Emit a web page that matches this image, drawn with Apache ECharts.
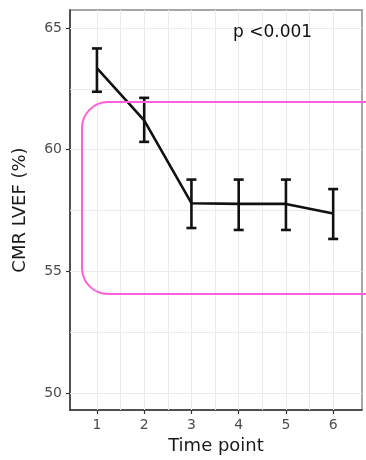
<!DOCTYPE html>
<html>
<head>
<meta charset="utf-8">
<script src="https://cdn.jsdelivr.net/npm/echarts@6/dist/echarts.min.js"></script>
<style>
  html, body { margin: 0; padding: 0; background: #fff; }
  #chart { width: 366px; height: 460px; }
</style>
</head>
<body>
<div id="chart"></div>
<script>
// time points and CMR LVEF mean with error bar limits
var timePoints = [1, 2, 3, 4, 5, 6]
var lvefMean = [63.35, 61.2, 57.8, 57.77, 57.77, 57.38]
var lvefUpper = [64.16, 62.13, 58.77, 58.77, 58.77, 58.38]
var lvefLower = [62.38, 60.32, 56.78, 56.7, 56.7, 56.33]
var yTicks = [50, 55, 60, 65]
var yMinor = [52.5, 57.5, 62.5]
var xMinor = [1.5, 2.5, 3.5, 4.5, 5.5]

var lineData = timePoints.map(function (t, i) { return [t, lvefMean[i]] })
var barData = timePoints.map(function (t, i) { return [t, lvefLower[i], lvefUpper[i]] })

var fontFam = '"DejaVu Sans", sans-serif'

function renderErrorBar (params, api) {
  var x = api.value(0)
  var lo = api.coord([x, api.value(1)])
  var hi = api.coord([x, api.value(2)])
  var half = 5
  var st = { stroke: '#111', lineWidth: 2.6 }
  return {
    type: 'group',
    children: [
      { type: 'line', shape: { x1: hi[0], y1: hi[1], x2: lo[0], y2: lo[1] }, style: st },
      { type: 'line', shape: { x1: hi[0] - half, y1: hi[1], x2: hi[0] + half, y2: hi[1] }, style: st },
      { type: 'line', shape: { x1: lo[0] - half, y1: lo[1], x2: lo[0] + half, y2: lo[1] }, style: st }
    ]
  }
}

var myChart = echarts.init(document.getElementById('chart'))
var option = {
  animation: false,
  grid: {
    left: 70,
    right: 4,
    top: 10,
    bottom: 50,
    show: true,
    borderColor: '#8a8a8a',
    borderWidth: 1.5,
    backgroundColor: '#fff'
  },
  xAxis: {
    type: 'value',
    min: 0.43,
    max: 6.61,
    name: 'Time point',
    nameLocation: 'middle',
    nameGap: 25,
    nameTextStyle: { color: '#1a1a1a', fontSize: 18, fontFamily: fontFam },
    axisLine: { show: true, onZero: false, lineStyle: { color: '#333', width: 1.5 } },
    axisTick: { show: true, length: 4, customValues: timePoints, lineStyle: { color: '#333', width: 1.2 } },
    axisLabel: { customValues: timePoints, color: '#4d4d4d', fontSize: 14, fontFamily: fontFam, margin: 8 },
    splitLine: { show: false }
  },
  yAxis: {
    type: 'value',
    min: 49.3,
    max: 65.74,
    name: 'CMR LVEF (%)',
    nameLocation: 'middle',
    nameGap: 41,
    nameTextStyle: { color: '#1a1a1a', fontSize: 18, fontFamily: fontFam },
    axisLine: { show: true, onZero: false, lineStyle: { color: '#333', width: 1.5 } },
    axisTick: { show: true, length: 4, customValues: yTicks, lineStyle: { color: '#333', width: 1.2 } },
    axisLabel: { customValues: yTicks, color: '#4d4d4d', fontSize: 14, fontFamily: fontFam, margin: 8 },
    splitLine: { show: false }
  },
  series: [
    {
      // grid lines drawn as mark lines so they sit on the data values
      type: 'line',
      data: [],
      silent: true,
      z: 1,
      markLine: {
        z: 1,
        silent: true,
        symbol: 'none',
        label: { show: false },
        lineStyle: { color: '#ebebeb', width: 1, type: 'solid' },
        data: yTicks.concat(yMinor).map(function (v) { return { yAxis: v } })
          .concat(timePoints.concat(xMinor).map(function (v) { return { xAxis: v } }))
      }
    },
    {
      type: 'line',
      data: lineData,
      showSymbol: false,
      lineStyle: { color: '#111', width: 2.6 },
      z: 3
    },
    {
      type: 'custom',
      renderItem: renderErrorBar,
      data: barData,
      encode: { x: 0, y: [1, 2] },
      z: 4
    }
  ],
  graphic: [
    {
      type: 'text',
      left: 233,
      top: 24,
      z: 100,
      style: { text: 'p <0.001', fill: '#111', font: '17px ' + fontFam }
    },
    {
      type: 'rect',
      z: 100,
      shape: { x: 82, y: 102, width: 320, height: 192, r: 26 },
      style: { fill: 'none', stroke: '#ff5fd8', lineWidth: 2 }
    }
  ]
}
myChart.setOption(option, true)
</script>
</body>
</html>
